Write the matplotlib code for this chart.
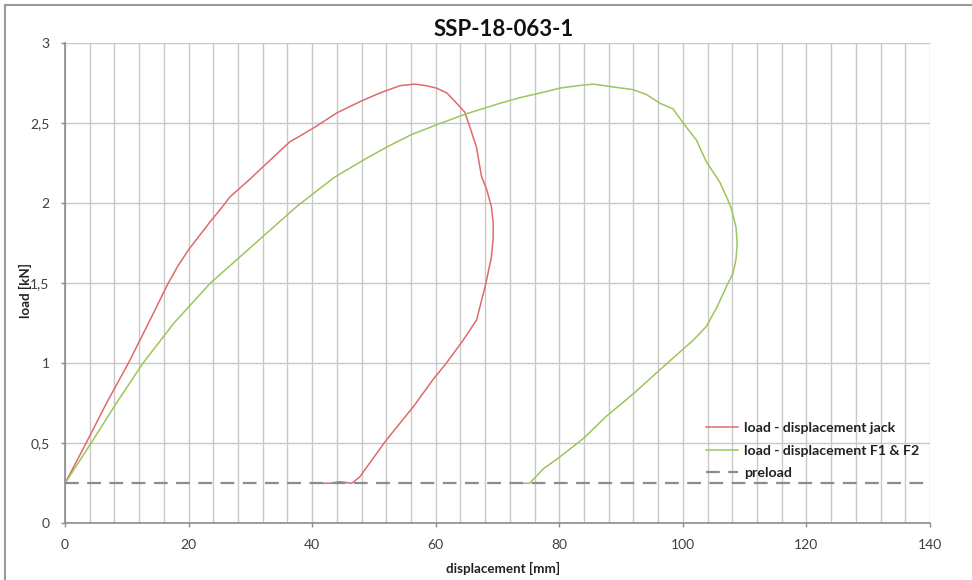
import matplotlib.pyplot as plt
from matplotlib.patches import Rectangle

plt.rcParams['font.family'] = ['Lato', 'DejaVu Sans']

# load - displacement jack
jack_disp = [0, 3.4, 6.7, 10.25, 13.5, 16.7, 18.3, 20.0, 21.8, 23.5, 25.2, 26.7, 29.9, 32.1,
             36.4, 38.0, 40.2, 44.0, 47.7, 51.0, 54.2, 56.6, 58.5, 60.1, 61.8, 63.4, 64.7,
             65.5, 66.6, 67.4, 68.3, 69.0, 69.3, 69.3, 69.0, 68.0, 66.6, 64.45, 61.7,
             59.6, 56.4, 52.0, 47.7, 46.4, 44.5, 42.9, 41.6]
jack_load = [0.25, 0.5, 0.75, 1.0, 1.25, 1.5, 1.61, 1.71, 1.8, 1.885, 1.965, 2.04, 2.15, 2.23,
             2.385, 2.42, 2.47, 2.565, 2.635, 2.69, 2.735, 2.745, 2.735, 2.72, 2.69, 2.625, 2.57,
             2.48, 2.35, 2.17, 2.08, 1.98, 1.88, 1.78, 1.66, 1.48, 1.27, 1.145, 1.0,
             0.9, 0.73, 0.52, 0.29, 0.25, 0.26, 0.25, 0.25]

# load - displacement F1 & F2
f_disp = [0, 4.2, 8.3, 12.6, 17.6, 23.5, 27.0, 30.5, 34.0, 37.5, 40.5, 43.5, 46.1, 48.3,
          52.0, 56.1, 60.1, 65.0, 70.4, 73.6, 77.0, 80.1, 83.0, 85.5, 88.2, 92.0, 94.1,
          96.3, 98.4, 100.1, 102.2, 103.8, 106.0, 107.3, 107.9, 108.6, 108.8, 108.6, 108.1,
          107.3, 105.5, 103.8, 101.7, 99.5, 96.3, 92.0, 87.65, 83.9, 80.1, 77.4, 75.2, 74.2]
f_load = [0.25, 0.5, 0.75, 1.0, 1.25, 1.5, 1.62, 1.74, 1.86, 1.98, 2.07, 2.16, 2.22, 2.27,
          2.35, 2.43, 2.49, 2.56, 2.625, 2.66, 2.69, 2.72, 2.735, 2.745, 2.73, 2.71, 2.68,
          2.625, 2.59, 2.5, 2.395, 2.26, 2.13, 2.02, 1.96, 1.85, 1.75, 1.65, 1.56,
          1.5, 1.35, 1.23, 1.145, 1.07, 0.96, 0.81, 0.67, 0.53, 0.415, 0.34, 0.25, 0.25]

preload = 0.25

xticks = [0, 20, 40, 60, 80, 100, 120, 140]
yticks = [0, 0.5, 1, 1.5, 2, 2.5, 3]
ytick_labels = ["0", "0,5", "1", "1,5", "2", "2,5", "3"]

fig = plt.figure(figsize=(9.72, 5.8), dpi=100)
ax = fig.add_axes([65/972, 1 - 523.3/580, 865/972, 480/580])

# chart area border
fig.patches.append(Rectangle((5/972, -0.05), 1.1, 1 - 5/580 + 0.05, transform=fig.transFigure,
                             fill=False, edgecolor="#9a9a9a", lw=1.5))

ax.plot(jack_disp, jack_load, color="#e06a6a", lw=1.1, label="load - displacement jack")
ax.plot(f_disp, f_load, color="#9cc65a", lw=1.1, label="load - displacement F1 & F2")
ax.plot([0, 140], [preload, preload], color="#8c8c8c", lw=1.6, ls=(0, (6.2, 3.8)), label="preload")

ax.set_xlim(0, 140)
ax.set_ylim(0, 3)
ax.set_xticks(xticks)
ax.set_xticks(range(0, 141, 4), minor=True)
ax.set_yticks(yticks)
ax.set_yticklabels(ytick_labels)

ax.grid(True, which="both", axis="x", color="#c8c8c8", lw=1)
ax.grid(True, which="major", axis="y", color="#c8c8c8", lw=1)
ax.set_axisbelow(True)
ax.tick_params(which="major", length=3, width=1, color="#8c8c8c", labelsize=10,
               labelcolor="#404040", pad=8)
ax.tick_params(which="minor", length=0)

for s in ["top", "right"]:
    ax.spines[s].set_visible(False)
for s in ["left", "bottom"]:
    ax.spines[s].set_color("#8c8c8c")
    ax.spines[s].set_linewidth(1.2)

fig.text(504/972, 1 - 30/580, "SSP-18-063-1", ha="center", va="center",
         fontsize=16, fontweight="bold", color="#111111")
fig.text(503/972, 1 - 568/580, "displacement [mm]", ha="center", va="center",
         fontsize=9.6, fontweight="bold", color="#222222")
fig.text(25/972, 1 - 290/580, "load [kN]", ha="center", va="center", rotation=90,
         fontsize=9.6, fontweight="bold", color="#222222")

leg = ax.legend(loc="lower left", bbox_to_anchor=((700 - 65)/865, (523.3 - 485)/480),
                frameon=False, fontsize=10.2, handlelength=2.3, handletextpad=0.4,
                labelspacing=0.75, borderaxespad=0)
for t in leg.get_texts():
    t.set_fontweight("bold")
    t.set_color("#222222")

plt.savefig("out.png", dpi=100)
